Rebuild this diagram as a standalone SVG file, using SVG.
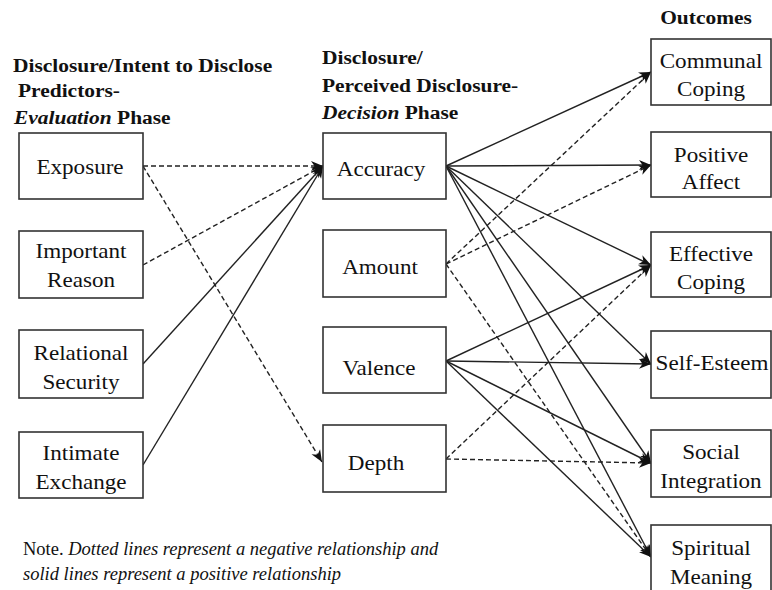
<svg xmlns="http://www.w3.org/2000/svg" width="772" height="590" viewBox="0 0 772 590">
<defs>
<marker id="ah" markerUnits="userSpaceOnUse" markerWidth="13" markerHeight="11" refX="12" refY="5.5" orient="auto">
<path d="M0,0.5 L12,5.5 L0,10.5 L3.5,5.5 Z" fill="#111"/>
</marker>
<style>
text{font-family:'Liberation Serif','Times New Roman',serif;fill:#111}
.box{fill:#fff;stroke:#333;stroke-width:1.6}
.t{font-size:21px;text-anchor:middle}
.h{font-size:19.5px;font-weight:bold}
.n{font-size:18.5px}
.s{fill:none;stroke:#222;stroke-width:1.4;marker-end:url(#ah)}
.d{fill:none;stroke:#222;stroke-width:1.4;stroke-dasharray:5,3;marker-end:url(#ah)}
</style>
</defs>
<rect width="772" height="590" fill="#fff"/>

<g id="headings">
<text class="h" transform="translate(13,72) scale(1.1,1)">Disclosure/Intent to Disclose</text>
<text class="h" transform="translate(18,97) scale(1.1,1)">Predictors-</text>
<text class="h" transform="translate(14,124) scale(1.1,1)"><tspan font-style="italic">Evaluation</tspan> Phase</text>
<text class="h" transform="translate(322,64) scale(1.1,1)">Disclosure/</text>
<text class="h" transform="translate(322,92) scale(1.1,1)">Perceived Disclosure-</text>
<text class="h" transform="translate(322,119) scale(1.1,1)"><tspan font-style="italic">Decision</tspan> Phase</text>
<text class="h" transform="translate(706,24) scale(1.1,1)" text-anchor="middle" font-size="18.5">Outcomes</text>
</g>

<g id="connectors">
<line class="d" x1="143" y1="166" x2="323" y2="166"/>
<line class="d" x1="143" y1="265" x2="323" y2="166"/>
<line class="s" x1="143" y1="364" x2="323" y2="166"/>
<line class="s" x1="143" y1="465" x2="323" y2="166"/>
<line class="d" x1="143" y1="166" x2="322" y2="462"/>

<line class="s" x1="446" y1="166" x2="651" y2="72"/>
<line class="s" x1="446" y1="166" x2="651" y2="165"/>
<line class="s" x1="446" y1="166" x2="651" y2="265"/>
<line class="s" x1="446" y1="166" x2="651" y2="364"/>
<line class="s" x1="446" y1="166" x2="651" y2="463"/>
<line class="s" x1="446" y1="166" x2="651" y2="557"/>

<line class="d" x1="446" y1="264" x2="651" y2="72"/>
<line class="d" x1="446" y1="264" x2="651" y2="165"/>
<line class="d" x1="446" y1="264" x2="651" y2="557"/>

<line class="s" x1="446" y1="361" x2="651" y2="265"/>
<line class="s" x1="446" y1="361" x2="651" y2="364"/>
<line class="s" x1="446" y1="361" x2="651" y2="463"/>
<line class="s" x1="446" y1="361" x2="651" y2="557"/>

<line class="d" x1="446" y1="459" x2="651" y2="265"/>
<line class="d" x1="446" y1="459" x2="651" y2="463"/>
</g>

<g id="exposure"><rect class="box" x="19" y="133" width="124" height="66"/><text class="t" transform="translate(80,174) scale(1.1,1)">Exposure</text></g>
<g id="important-reason"><rect class="box" x="19" y="231" width="124" height="67"/><text class="t" transform="translate(81,258) scale(1.1,1)">Important</text><text class="t" transform="translate(81,287) scale(1.1,1)">Reason</text></g>
<g id="relational-security"><rect class="box" x="19" y="330" width="124" height="68"/><text class="t" transform="translate(81,360) scale(1.1,1)">Relational</text><text class="t" transform="translate(81,389) scale(1.1,1)">Security</text></g>
<g id="intimate-exchange"><rect class="box" x="19" y="432" width="124" height="66"/><text class="t" transform="translate(81,460) scale(1.1,1)">Intimate</text><text class="t" transform="translate(81,489) scale(1.1,1)">Exchange</text></g>

<g id="accuracy"><rect class="box" x="323" y="133" width="123" height="66"/><text class="t" transform="translate(381,176) scale(1.1,1)">Accuracy</text></g>
<g id="amount"><rect class="box" x="323" y="230" width="123" height="67"/><text class="t" transform="translate(380,274) scale(1.1,1)">Amount</text></g>
<g id="valence"><rect class="box" x="323" y="327" width="123" height="66"/><text class="t" transform="translate(379,375) scale(1.1,1)">Valence</text></g>
<g id="depth"><rect class="box" x="323" y="425" width="123" height="67"/><text class="t" transform="translate(376,470) scale(1.1,1)">Depth</text></g>

<g id="communal-coping"><rect class="box" x="651" y="39" width="120" height="66"/><text class="t" transform="translate(711,68) scale(1.1,1)">Communal</text><text class="t" transform="translate(711,96) scale(1.1,1)">Coping</text></g>
<g id="positive-affect"><rect class="box" x="651" y="132" width="120" height="65"/><text class="t" transform="translate(711,162) scale(1.1,1)">Positive</text><text class="t" transform="translate(711,189) scale(1.1,1)">Affect</text></g>
<g id="effective-coping"><rect class="box" x="651" y="232" width="120" height="65"/><text class="t" transform="translate(711,261) scale(1.1,1)">Effective</text><text class="t" transform="translate(711,289) scale(1.1,1)">Coping</text></g>
<g id="self-esteem"><rect class="box" x="651" y="331" width="120" height="67"/><text class="t" transform="translate(712,370) scale(1.1,1)">Self-Esteem</text></g>
<g id="social-integration"><rect class="box" x="651" y="430" width="120" height="67"/><text class="t" transform="translate(711,459) scale(1.1,1)">Social</text><text class="t" transform="translate(711,488) scale(1.1,1)">Integration</text></g>
<g id="spiritual-meaning"><rect class="box" x="651" y="525" width="120" height="70"/><text class="t" transform="translate(711,555) scale(1.1,1)">Spiritual</text><text class="t" transform="translate(711,584) scale(1.1,1)">Meaning</text></g>

<g id="note">
<text class="n" x="23" y="555">Note. <tspan font-style="italic">Dotted lines represent a negative relationship and</tspan></text>
<text class="n" x="23" y="580" font-style="italic">solid lines represent a positive relationship</text>
</g>
</svg>
